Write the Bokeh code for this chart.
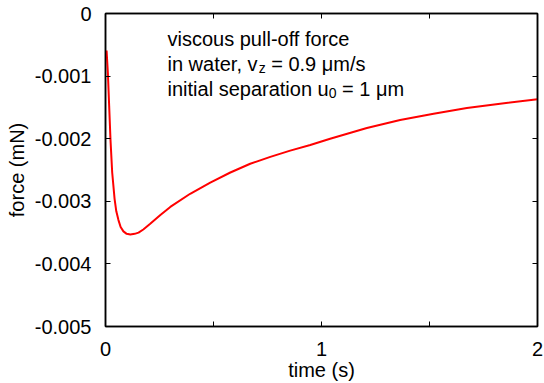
from bokeh.plotting import figure
from bokeh.models import LinearAxis, FixedTicker, Label, Range1d
from bokeh.embed import file_html
from bokeh.resources import INLINE

# ---- data ----
time_s = [0.005, 0.011, 0.017, 0.023, 0.031, 0.042, 0.050, 0.060, 0.070, 0.083,
          0.098, 0.115, 0.135, 0.153, 0.175, 0.207, 0.254, 0.300, 0.392, 0.485,
          0.578, 0.670, 0.763, 0.855, 0.948, 1.040, 1.210, 1.364, 1.519, 1.673,
          1.827, 2.000]
force_mN = [-0.00059, -0.00095, -0.00148, -0.00201, -0.00254, -0.00296, -0.00316,
            -0.00330, -0.00341, -0.00348, -0.00352, -0.00353, -0.00352, -0.00350,
            -0.00345, -0.00336, -0.00322, -0.00309, -0.00288, -0.00270, -0.00254,
            -0.00240, -0.00229, -0.00219, -0.00210, -0.00200, -0.00183, -0.00170,
            -0.00160, -0.00151, -0.00144, -0.00137]

x_ticks = [0, 0.5, 1, 1.5, 2]
x_tick_labels = ["0", "", "1", "", "2"]
y_ticks = [0, -0.001, -0.002, -0.003, -0.004, -0.005]
y_tick_labels = ["0", "-0.001", "-0.002", "-0.003", "-0.004", "-0.005"]

FONT = "Liberation Sans"
FS = 20

W, H = 544, 383
BL, BR, BT, BB = 105, 7, 13, 54
FRAME_W = W - BL - BR
FRAME_H = H - BT - BB

p = figure(width=W, height=H, output_backend="svg", toolbar_location=None,
           x_range=Range1d(0, 2), y_range=Range1d(-0.005, 0),
           min_border_left=BL, min_border_right=BR, min_border_top=BT,
           min_border_bottom=BB, x_axis_label="time (s)", y_axis_label="force (mN)")
p.grid.visible = False
p.outline_line_color = "black"
p.outline_line_width = 1.5
p.background_fill_color = "white"
p.border_fill_color = "white"

p.line(time_s, force_mN, line_color="#ff0000", line_width=2)


def style_axis(ax, ticks, labels, show_labels):
    ax.ticker = FixedTicker(ticks=ticks)
    ax.major_label_overrides = {t: l for t, l in zip(ticks, labels)}
    ax.minor_tick_line_color = None
    ax.major_tick_in = 5
    ax.major_tick_out = 0
    ax.major_tick_line_width = 1
    ax.major_tick_line_color = "black"
    ax.axis_line_color = "black"
    ax.axis_line_width = 1.5
    ax.major_label_text_font = FONT
    ax.major_label_text_color = "black"
    if show_labels:
        ax.major_label_text_font_size = f"{FS}px"
    else:
        ax.major_label_text_font_size = "0px"
        ax.major_label_standoff = 0


xa = p.xaxis[0]
style_axis(xa, x_ticks, x_tick_labels, True)
xa.major_label_standoff = 15
xa.axis_label_text_font = FONT
xa.axis_label_text_font_size = f"{FS}px"
xa.axis_label_text_font_style = "normal"
xa.axis_label_text_color = "black"
xa.axis_label_standoff = 0

ya = p.yaxis[0]
style_axis(ya, y_ticks, y_tick_labels, True)
ya.major_label_standoff = 14
ya.axis_label_text_font = FONT
ya.axis_label_text_font_size = f"{FS}px"
ya.axis_label_text_font_style = "normal"
ya.axis_label_text_color = "black"
ya.axis_label_standoff = 4

top = LinearAxis()
style_axis(top, x_ticks, ["", "", "", "", ""], False)
p.add_layout(top, "above")
right = LinearAxis()
style_axis(right, y_ticks, ["", "", "", "", "", ""], False)
p.add_layout(right, "right")

# ---- annotation text with sub-scripts ----
ARIAL = {' ': 278, ',': 278, '=': 584, '.': 278, '/': 278, '-': 333,
         '0': 556, '1': 556, '9': 556, 'a': 556, 'c': 500, 'e': 556, 'f': 278,
         'i': 222, 'l': 222, 'm': 833, 'n': 556, 'o': 556, 'p': 556, 'r': 333,
         's': 500, 't': 278, 'u': 556, 'v': 500, 'w': 722, 'z': 500, 'μ': 576}


def text_px(s, size):
    return sum(ARIAL.get(ch, 556) for ch in s) * size / 1000.0


PX_X = 2.0 / FRAME_W
PX_Y = 0.005 / FRAME_H
ann_left_px = 62            # from the left edge of the frame
base_px = [26, 51, 76]      # text anchor, px below the top of the frame
SUB = 14
SUB_DROP = 4
SPACE = text_px(" ", FS)

# (text, is_subscript, gap in px before the piece)
lines = [
    [("viscous pull-off force", False, 0)],
    [("in water, v", False, 0), ("z", True, 0), ("= 0.9 μm/s", False, SPACE)],
    [("initial separation u", False, 0), ("0", True, 0), ("= 1 μm", False, SPACE)],
]

for bpx, pieces in zip(base_px, lines):
    xpx = ann_left_px
    for txt, sub, gap in pieces:
        xpx += gap
        size = SUB if sub else FS
        ypx = bpx + (SUB_DROP if sub else 0)
        p.add_layout(Label(x=xpx * PX_X, y=-ypx * PX_Y, text=txt,
                           text_font=FONT, text_font_size=f"{size}px",
                           text_color="black", text_baseline="alphabetic",
                           text_align="left"))
        xpx += text_px(txt, size)

open("out.html", "w").write(file_html(p, INLINE))
